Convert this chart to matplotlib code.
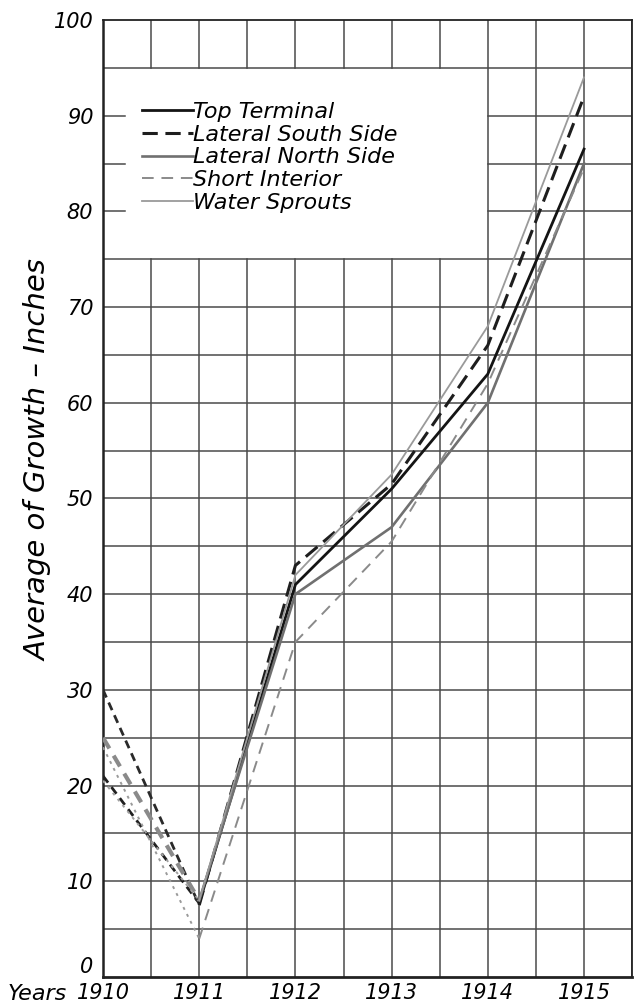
import matplotlib
matplotlib.use("Agg")
import matplotlib.pyplot as plt
from matplotlib.lines import Line2D

# Data (inches of growth per year)
years = [1910, 1911, 1912, 1913, 1914, 1915]
series_names = [
    "Top Terminal",
    "Lateral South Side",
    "Lateral North Side",
    "Short Interior",
    "Water Sprouts",
]
top_terminal = [21, 7.7, 41, 51, 63, 86.5]
lateral_south = [30, 7.5, 43, 51.5, 66, 92]
lateral_north = [25, 8, 40, 47, 60, 85]
short_interior = [24, 4, 35, 45.5, 62, 84.5]
water_sprouts = [20.5, 8, 42, 52.5, 68, 94]
y_ticks = list(range(0, 101, 10))

plt.rcParams["font.family"] = ["DejaVu Sans"]
plt.rcParams["font.style"] = "italic"

fig = plt.figure(figsize=(6.34, 10.08), dpi=100)
ax = fig.add_axes([0.1625, 0.0308, 0.8345, 0.9494])
ax.set_xlim(1910, 1915.5)
ax.set_ylim(0, 100)

grid_kw = dict(color="#4a4a4a", linewidth=1.1, zorder=1)
# vertical grid, blanked out behind the legend
for i in range(1, 12):
    x = 1910 + i * 0.5
    if x < 1914:
        ax.plot([x, x], [0, 75], **grid_kw)
        ax.plot([x, x], [95, 100], **grid_kw)
    else:
        ax.plot([x, x], [0, 100], **grid_kw)
# horizontal grid, with small stubs left of the legend
for i in range(1, 20):
    y = i * 5
    if 75 < y < 95:
        ax.plot([1910, 1910.23], [y, y], **grid_kw)
        ax.plot([1914, 1915.5], [y, y], **grid_kw)
    else:
        ax.plot([1910, 1915.5], [y, y], **grid_kw)

# main styles (1911 onwards) and the dashed first-year segment styles
styles = [
    dict(color="#141414", linestyle="-", linewidth=2.0),
    dict(color="#1e1e1e", linestyle=(0, (5, 2.5)), linewidth=2.2),
    dict(color="#707070", linestyle="-", linewidth=1.9),
    dict(color="#8a8a8a", linestyle=(0, (6, 4)), linewidth=1.4),
    dict(color="#9a9a9a", linestyle="-", linewidth=1.3),
]
first_styles = [
    dict(color="#202020", linestyle=(0, (3, 2)), linewidth=2.0),
    dict(color="#2a2a2a", linestyle=(0, (3, 2)), linewidth=2.0),
    dict(color="#8a8a8a", linestyle=(0, (3, 2)), linewidth=3.0),
    dict(color="#9a9a9a", linestyle=(0, (1.5, 2.5)), linewidth=1.4),
    dict(color="#a0a0a0", linestyle=(0, (1.5, 2.5)), linewidth=1.4),
]
all_series = [top_terminal, lateral_south, lateral_north, short_interior, water_sprouts]
for vals, st, st0 in zip(all_series, styles, first_styles):
    ax.plot(years[:2], vals[:2], zorder=3, **st0)
    ax.plot(years[1:], vals[1:], zorder=3, **st)

for side in ["left", "bottom", "right", "top"]:
    ax.spines[side].set_color("#222222")
    ax.spines[side].set_linewidth(1.3)
ax.spines["left"].set_linewidth(1.8)
ax.spines["bottom"].set_linewidth(2.0)

ax.set_yticks(y_ticks)
ax.set_yticklabels([str(v) for v in y_ticks], fontsize=15)
ax.set_xticks(years)
ax.set_xticklabels([str(y) for y in years], fontsize=15)
ax.tick_params(axis="both", length=0)
ax.tick_params(axis="y", pad=7)
ax.tick_params(axis="x", pad=4)
ax.get_yticklabels()[0].set_verticalalignment("bottom")

ax.set_ylabel("Average of Growth – Inches", fontsize=21)
ax.yaxis.set_label_coords(-0.095, 0.54)
fig.text(0.012, 0.0135, "Years", fontsize=16, ha="left", va="center")

handles = [Line2D([], [], **st) for st in styles]
ax.legend(handles, series_names, loc="upper left", bbox_to_anchor=(0.036, 0.935),
          frameon=False, handlelength=2.3, handletextpad=0.0, labelspacing=0.12,
          prop=dict(size=16, style="italic"))

fig.savefig("out.png", dpi=100)
